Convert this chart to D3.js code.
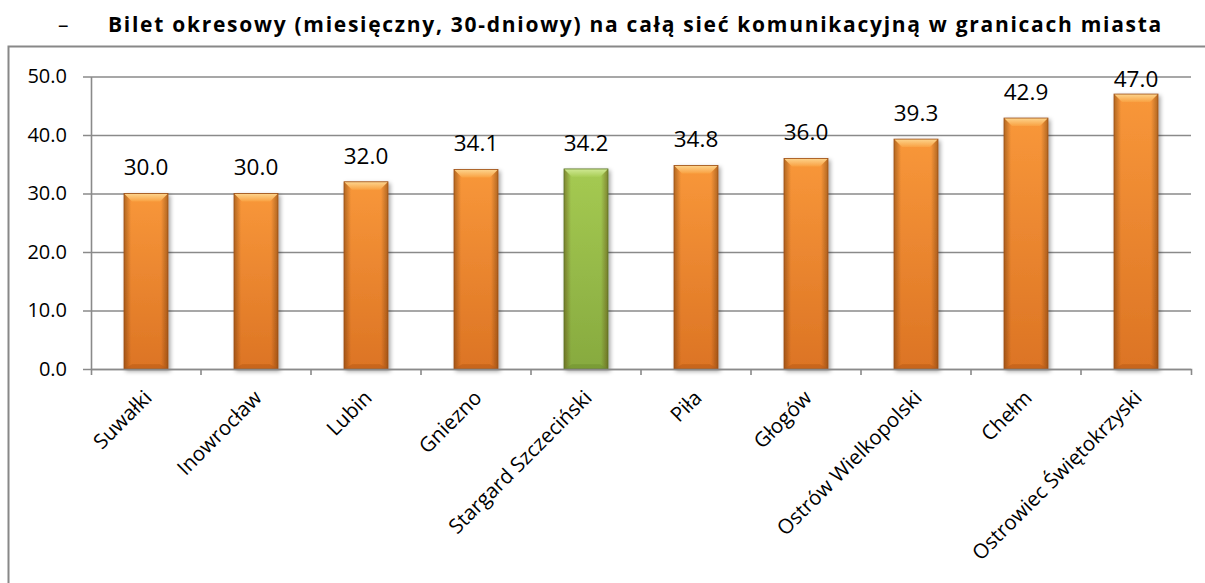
<!DOCTYPE html>
<html>
<head>
<meta charset="utf-8">
<script src="https://cdn.jsdelivr.net/npm/d3@7"></script>
<style>
  body { margin: 0; background: #fff; }
  svg { display: block; font-family: "Open Sans", "Liberation Sans", sans-serif; }
</style>
</head>
<body>
<svg id="chart" width="1205" height="583"></svg>
<script>
// chart data
var title = "Bilet okresowy (miesięczny, 30-dniowy) na całą sieć komunikacyjną w granicach miasta";
var categories = ["Suwałki", "Inowrocław", "Lubin", "Gniezno", "Stargard Szczeciński",
                  "Piła", "Głogów", "Ostrów Wielkopolski", "Chełm", "Ostrowiec Świętokrzyski"];
var values = [30.0, 30.0, 32.0, 34.1, 34.2, 34.8, 36.0, 39.3, 42.9, 47.0];
var highlighted = ["Stargard Szczeciński"];
var yTicks = [0, 10, 20, 30, 40, 50];

var BEVEL = 8;
var LABEL_GAP = 26;

var svg = d3.select("#chart");
var defs = svg.append("defs");

var x = d3.scaleBand()
    .domain(categories)
    .range([91, 1191])
    .paddingInner(0.6)
    .paddingOuter(0.3);

var y = d3.scaleLinear()
    .domain([0, 50])
    .range([369, 76.5]);

var palette = {
    orange: {top: "#f8973a", bottom: "#dc7424", bevel1: "#fdd58e", bevel2: "#f9a142", base: "#b85a18", line: "#9c4e14"},
    green:  {top: "#a5ca52", bottom: "#87aa3f", bevel1: "#d0e994", bevel2: "#a8cd56", base: "#6f8f2f", line: "#5a7426"}
};

function make_gradients(name, c) {
    var g = defs.append("linearGradient").attr("id", name + "-body")
        .attr("x1", 0).attr("y1", 0).attr("x2", 0).attr("y2", 1);
    g.append("stop").attr("offset", "0%").attr("stop-color", c.top);
    g.append("stop").attr("offset", "100%").attr("stop-color", c.bottom);

    var b = defs.append("linearGradient").attr("id", name + "-bevel")
        .attr("x1", 0).attr("y1", 0).attr("x2", 0).attr("y2", 1);
    b.append("stop").attr("offset", "0%").attr("stop-color", c.bevel1);
    b.append("stop").attr("offset", "100%").attr("stop-color", c.bevel2);
}
make_gradients("orange", palette.orange);
make_gradients("green", palette.green);

// darker edges on the left and right side of each bar
var side = defs.append("linearGradient").attr("id", "side-shade")
    .attr("x1", 0).attr("y1", 0).attr("x2", 1).attr("y2", 0);
side.append("stop").attr("offset", "0%").attr("stop-color", "#4a2200").attr("stop-opacity", 0.4);
side.append("stop").attr("offset", "16%").attr("stop-color", "#4a2200").attr("stop-opacity", 0);
side.append("stop").attr("offset", "84%").attr("stop-color", "#4a2200").attr("stop-opacity", 0);
side.append("stop").attr("offset", "100%").attr("stop-color", "#4a2200").attr("stop-opacity", 0.4);

var shadow = defs.append("filter").attr("id", "shadow")
    .attr("x", "-30%").attr("y", "-10%").attr("width", "160%").attr("height", "130%");
shadow.append("feDropShadow").attr("dx", 2).attr("dy", 2).attr("stdDeviation", 2)
    .attr("flood-color", "#000").attr("flood-opacity", 0.35);

// outer frame of the chart (runs off the page at the right and bottom)
svg.append("rect")
    .attr("x", 8.5).attr("y", 46.5)
    .attr("width", 1300).attr("height", 700)
    .attr("fill", "none").attr("stroke", "#888").attr("stroke-width", 2);

// title with the leading dash
svg.append("text")
    .attr("x", 58).attr("y", 32)
    .style("font-size", "21px")
    .text("–");

var titleText = svg.append("text")
    .attr("x", 108).attr("y", 32)
    .style("font-size", "21px")
    .style("font-weight", "bold")
    .text(title);
// squeeze the wider fallback font into the width of the original title
var titleLen = titleText.node().getComputedTextLength();
titleText.style("letter-spacing", ((1055 - titleLen) / title.length) + "px");

// y axis with gridlines
var yAxis = svg.append("g")
    .attr("transform", "translate(91,0)")
    .call(d3.axisLeft(y)
        .tickValues(yTicks)
        .tickSizeInner(-1100)
        .tickSizeOuter(0)
        .tickPadding(24)
        .tickFormat(d3.format(".1f")));
yAxis.selectAll(".tick line").attr("x1", -8).attr("stroke", "#8a8a8a").attr("stroke-width", 1.6);
yAxis.select(".domain").attr("stroke", "#8a8a8a").attr("stroke-width", 1.6);
yAxis.selectAll(".tick text")
    .attr("fill", "#000")
    .style("font-size", "20px")
    .style("font-family", "Open Sans");

// bars
var bars = svg.append("g").selectAll("g.bar")
    .data(categories)
    .enter().append("g")
    .attr("class", "bar")
    .attr("filter", "url(#shadow)");

function colors_for(d) {
    return highlighted.indexOf(d) >= 0 ? "green" : "orange";
}

bars.each(function(d, i) {
    var g = d3.select(this);
    var c = colors_for(d);
    var x0 = x(d), w = x.bandwidth();
    var top = y(values[i]), bottom = y(0);
    var b = BEVEL;

    g.append("rect")
        .attr("x", x0).attr("y", top)
        .attr("width", w).attr("height", bottom - top)
        .attr("fill", "url(#" + c + "-body)");
    g.append("rect")
        .attr("x", x0).attr("y", top)
        .attr("width", w).attr("height", bottom - top)
        .attr("fill", "url(#side-shade)");
    // top bevel
    g.append("path")
        .attr("d", "M" + x0 + "," + top + "H" + (x0 + w) + "L" + (x0 + w - b) + "," + (top + b) +
                   "H" + (x0 + b) + "Z")
        .attr("fill", "url(#" + c + "-bevel)");
    // bottom bevel
    g.append("path")
        .attr("d", "M" + x0 + "," + bottom + "H" + (x0 + w) + "L" + (x0 + w - b) + "," + (bottom - b * 0.6) +
                   "H" + (x0 + b) + "Z")
        .attr("fill", palette[c].base).attr("opacity", 0.55);
    g.append("rect")
        .attr("x", x0).attr("y", top)
        .attr("width", w).attr("height", bottom - top)
        .attr("fill", "none")
        .attr("stroke", palette[c].line).attr("stroke-width", 0.8);
});

// x axis: the baseline plus ticks between the categories
var xAxis = svg.append("g")
    .attr("transform", "translate(0,369)")
    .call(d3.axisBottom(x).tickSizeInner(0).tickSizeOuter(6).tickPadding(0));
xAxis.select(".domain").attr("stroke", "#8a8a8a").attr("stroke-width", 1.6);

var bounds = d3.range(1, categories.length).map(function(i) { return x.range()[0] + i * x.step(); });
xAxis.selectAll("line.sep")
    .data(bounds)
    .enter().append("line")
    .attr("class", "sep")
    .attr("x1", function(d) { return d; }).attr("x2", function(d) { return d; })
    .attr("y1", 0).attr("y2", 6)
    .attr("stroke", "#8a8a8a").attr("stroke-width", 1.6);

xAxis.selectAll(".tick text")
    .attr("fill", "#000")
    .style("font-size", "20.5px")
    .style("font-family", "Open Sans")
    .attr("text-anchor", "end")
    .attr("dy", "0.35em")
    .attr("y", 0)
    .attr("transform", "translate(2,25) rotate(-45)");

// value labels, kept inside the plot area at the top
svg.append("g").selectAll("text")
    .data(values)
    .enter().append("text")
    .attr("x", function(d, i) { return x(categories[i]) + x.bandwidth() / 2; })
    .attr("y", function(d) { return Math.max(y(d) - LABEL_GAP, y.range()[1] + 2.5); })
    .attr("dy", "0.35em")
    .attr("text-anchor", "middle")
    .style("font-size", "22.5px")
    .text(function(d) { return d.toFixed(1); });
</script>
</body>
</html>
